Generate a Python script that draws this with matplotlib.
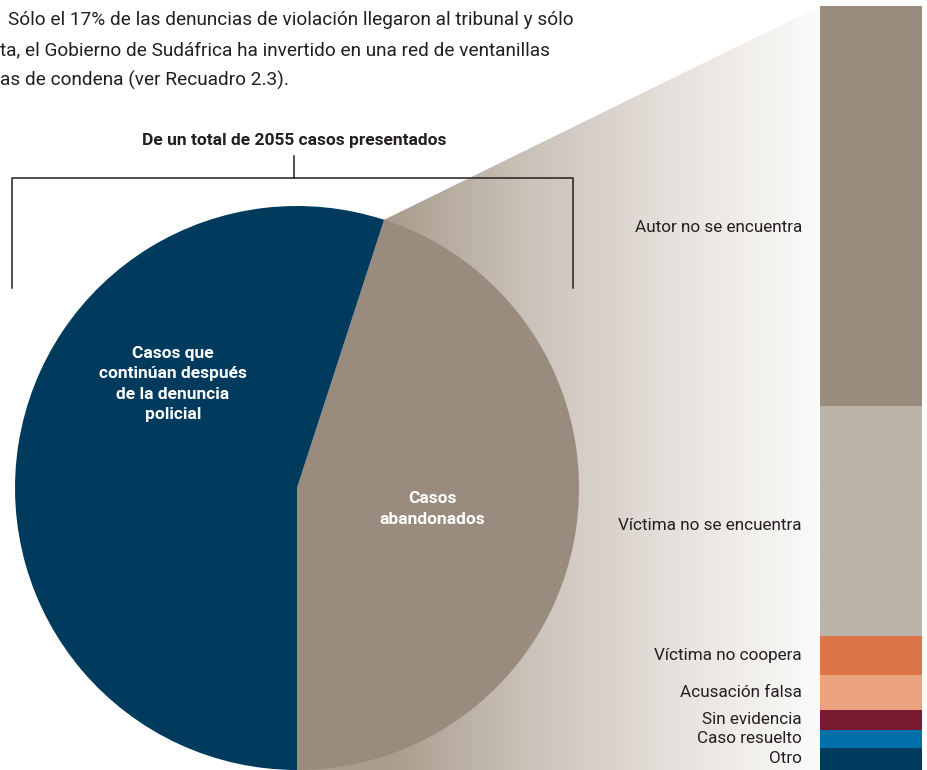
import matplotlib
matplotlib.use("Agg")
import matplotlib.pyplot as plt
import numpy as np
from matplotlib import font_manager
from matplotlib.colors import LinearSegmentedColormap
from matplotlib.patches import Polygon

names = {f.name for f in font_manager.fontManager.ttflist}
cond = "Liberation Sans Narrow" if "Liberation Sans Narrow" in names else "Roboto"
plt.rcParams["font.family"] = [cond, "DejaVu Sans"]

# pie data
pie_labels = ["Casos\nabandonados", "Casos que\ncontinúan después\nde la denuncia\npolicial"]
pie_values = [45, 55]
pie_colors = ["#998b7d", "#003a5d"]

# breakdown of abandoned cases (top to bottom)
bar_labels = ["Autor no se encuentra", "Víctima no se encuentra", "Víctima no coopera",
              "Acusación falsa", "Sin evidencia", "Caso resuelto", "Otro"]
bar_values = [52.4, 30.1, 5.2, 4.5, 2.6, 2.4, 2.9]
bar_colors = ["#998b7d", "#bbb2a8", "#dc7548", "#eba27e", "#7a1a30", "#0070aa", "#003a5d"]

intro = ["Sólo el 17% de las denuncias de violación llegaron al tribunal y sólo",
         "ta, el Gobierno de Sudáfrica ha invertido en una red de ventanillas",
         "as de condena (ver Recuadro 2.3)."]

W, H = 927, 770
fig = plt.figure(figsize=(W / 100, H / 100), dpi=100)
ax = fig.add_axes([0, 0, 1, 1])

cx, cy, r = 297, 282, 282
bar_x0, bar_x1, bar_top = 820, 922, 764

# gradient wedge from pie to bar
end_ang = np.deg2rad(-90 + 360 * pie_values[0] / sum(pie_values))
px, py = cx + r * np.cos(end_ang), cy + r * np.sin(end_ang)
grad = LinearSegmentedColormap.from_list("g", ["#a99b8d", "#cbc2b9", "#e6e1dc", "#fbfbfa"])
img = ax.imshow(np.linspace(0, 1, 256)[None, :], cmap=grad, aspect="auto",
                extent=[px, bar_x0, 0, bar_top], zorder=1)
img2 = ax.imshow([[0]], cmap=grad, vmin=0, vmax=1, aspect="auto",
                 extent=[cx, px + 1, 0, bar_top], zorder=1)
clip = Polygon([[px, py], [bar_x0, bar_top], [bar_x0, 0], [cx, 0]], closed=True,
               transform=ax.transData, facecolor="none", edgecolor="none")
ax.add_patch(clip)
img.set_clip_path(clip)
img2.set_clip_path(clip)

wedges, _ = ax.pie(pie_values, colors=pie_colors, startangle=-90, counterclock=True,
                   center=(cx, cy), radius=r, frame=True)
for w in wedges:
    w.set_zorder(2)
ax.set_xlim(0, W)
ax.set_ylim(0, H)
ax.set_aspect("auto")
ax.axis("off")

ax.text(432, 261, pie_labels[0], color="white", fontsize=12.5, fontweight="bold",
        ha="center", va="center", linespacing=1.45, zorder=3)
ax.text(173, 386, pie_labels[1], color="white", fontsize=12.5, fontweight="bold",
        ha="center", va="center", linespacing=1.45, zorder=3)

# stacked bar
scale = bar_top / sum(bar_values)
top = bar_top
for i, (lab, v, c) in enumerate(zip(bar_labels, bar_values, bar_colors)):
    h = v * scale
    ax.bar((bar_x0 + bar_x1) / 2, h, width=bar_x1 - bar_x0, bottom=top - h,
           color=c, linewidth=0, zorder=3)
    ly = top - h / 2 - (22 if i == 0 else 5 if i == 1 else 0)
    ax.text(802, ly, lab, ha="right", va="center", fontsize=12.3,
            color="#231f20", zorder=4)
    top -= h

# bracket and title
ax.plot([12, 12, 573, 573], [482, 592, 592, 482], color="#231f20", lw=1.1, zorder=4)
ax.plot([294, 294], [592, 614], color="#231f20", lw=1.1, zorder=4)
ax.text(294, 630, "De un total de 2055 casos presentados", ha="center", va="center",
        fontsize=12.5, fontweight="bold", color="#231f20", zorder=4)

# intro text (cut off at the left)
for i, (x0, line) in enumerate(zip([8, 0, 0], intro)):
    ax.text(x0, 750 - 30 * i, line, ha="left", va="center", fontsize=13.7,
            color="#231f20", zorder=4)

fig.savefig("out.png", dpi=100)
